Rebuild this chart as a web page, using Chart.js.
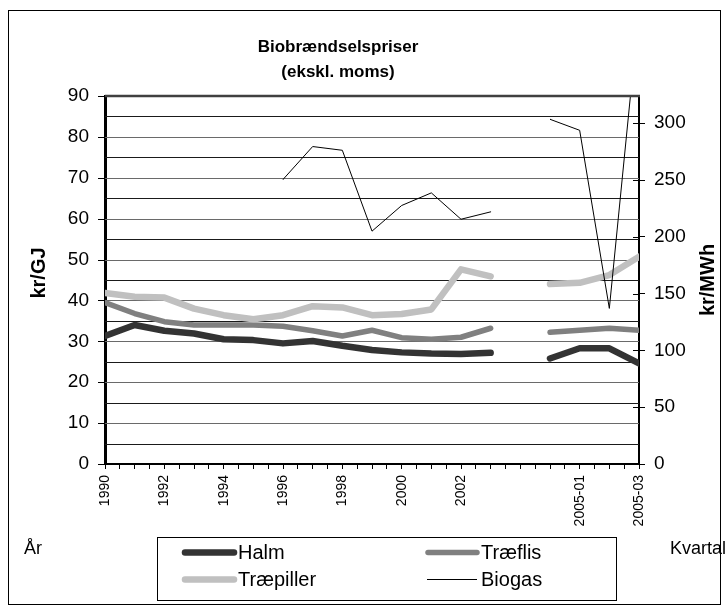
<!DOCTYPE html>
<html>
<head>
<meta charset="utf-8">
<script src="https://cdn.jsdelivr.net/npm/chart.js@4.4.1/dist/chart.umd.min.js"></script>
<style>
  body { margin: 0; background: #fff; }
  #chart { display: block; }
</style>
</head>
<body>
<canvas id="chart" width="728" height="610"></canvas>
<script>
// categories: years, an empty gap slot, then quarters
const categories = ['1990','1991','1992','1993','1994','1995','1996','1997','1998','1999',
                    '2000','2001','2002','2003','','2004-04','2005-01','2005-02','2005-03'];

// kr/GJ
const halm       = [31.3, 34.0, 32.6, 31.9, 30.5, 30.3, 29.5, 30.1, 28.9, 27.9, 27.3, 27.0, 26.9, 27.2, null, 25.8, 28.3, 28.3, 24.6];
const traeflis   = [39.5, 36.8, 34.8, 34.0, 34.0, 34.0, 33.7, 32.6, 31.3, 32.7, 30.9, 30.5, 31.0, 33.2, null, 32.2, 32.7, 33.2, 32.7];
const traepiller = [41.8, 40.9, 40.7, 38.0, 36.4, 35.4, 36.4, 38.6, 38.3, 36.4, 36.7, 37.8, 47.6, 45.9, null, 44.0, 44.3, 46.2, 50.7];
// kr/MWh (secondary axis)
const biogas     = [null, null, null, null, null, null, 250.5, 279.5, 276.2, 205, 227.6, 238.7, 215.5, 222, null, 303.5, 293.8, 137, 400];

const leftTicksMax = 90;
const leftStep = 5;
const rightTicksMax = 324;   // 90 kr/GJ = 324 kr/MWh
const rightStep = 50;

const FONT = '"Liberation Sans", Arial, sans-serif';
Chart.defaults.font.family = FONT;
Chart.defaults.color = '#000';

function pts(arr) {
  return arr.map((v, i) => ({ x: i, y: v }));
}

const decor = {
  id: 'decor',
  beforeDraw(chart) {
    const ctx = chart.ctx;
    ctx.save();
    ctx.fillStyle = '#fff';
    ctx.fillRect(0, 0, chart.width, chart.height);
    ctx.strokeStyle = '#000';
    ctx.lineWidth = 1;
    ctx.strokeRect(8.5, 10.5, 712, 594);
    ctx.restore();
  },
  beforeDatasetsDraw(chart) {
    // horizontal gridlines every 5 kr/GJ, tick marks every 10
    const ctx = chart.ctx;
    const a = chart.chartArea;
    const y = chart.scales.y;
    ctx.save();
    ctx.lineWidth = 1;
    for (let v = 0; v <= leftTicksMax; v += leftStep) {
      const py = Math.round(y.getPixelForValue(v)) + 0.5;
      if (v > 0 && v < leftTicksMax) {
        ctx.strokeStyle = v % 10 === 0 ? '#6a6a6a' : '#1a1a1a';
        ctx.beginPath();
        ctx.moveTo(a.left, py);
        ctx.lineTo(a.right, py);
        ctx.stroke();
      }
      if (v % 10 === 0) {
        ctx.strokeStyle = '#000';
        ctx.beginPath();
        ctx.moveTo(a.left - 7, py);
        ctx.lineTo(a.left, py);
        ctx.stroke();
      }
    }
    ctx.restore();
  },
  afterDraw(chart) {
    const ctx = chart.ctx;
    const a = chart.chartArea;
    ctx.save();

    // top border of plot
    ctx.strokeStyle = '#404040';
    ctx.lineWidth = 2.5;
    ctx.beginPath();
    ctx.moveTo(a.left, a.top);
    ctx.lineTo(a.right + 1, a.top);
    ctx.stroke();

    // inner half of the secondary axis ticks
    const y1 = chart.scales.y1;
    ctx.strokeStyle = '#000';
    ctx.lineWidth = 1;
    y1.ticks.forEach(t => {
      const py = Math.round(y1.getPixelForValue(t.value)) + 0.5;
      ctx.beginPath();
      ctx.moveTo(a.right - 6, py);
      ctx.lineTo(a.right, py);
      ctx.stroke();
    });

    // title
    ctx.fillStyle = '#000';
    ctx.textAlign = 'center';
    ctx.textBaseline = 'middle';
    ctx.font = 'bold 17px ' + FONT;
    ctx.fillText('Biobrændselspriser', 338, 47);
    ctx.fillText('(ekskl. moms)', 338, 72);

    // axis titles
    ctx.font = 'bold 20px ' + FONT;
    ctx.save();
    ctx.translate(39, 273);
    ctx.rotate(-Math.PI / 2);
    ctx.fillText('kr/GJ', 0, 0);
    ctx.restore();
    ctx.save();
    ctx.translate(708, 280);
    ctx.rotate(-Math.PI / 2);
    ctx.fillText('kr/MWh', 0, 0);
    ctx.restore();

    ctx.font = '18px ' + FONT;
    ctx.textAlign = 'left';
    ctx.fillText('År', 24, 549);
    ctx.fillText('Kvartal', 670, 549);

    // legend
    ctx.strokeStyle = '#000';
    ctx.lineWidth = 1;
    ctx.strokeRect(157.5, 537.5, 459, 63);
    const cols = [182, 425];
    const rows = [552, 579];
    ctx.font = '20px ' + FONT;
    chart.data.datasets.forEach((ds, i) => {
      const x = cols[i % 2];
      const yy = rows[Math.floor(i / 2)];
      const thin = ds.borderWidth < 2;
      ctx.strokeStyle = ds.borderColor;
      ctx.lineWidth = ds.borderWidth;
      ctx.lineCap = thin ? 'butt' : 'round';
      ctx.beginPath();
      ctx.moveTo(thin ? x + 2 : x + 3, yy + 0.5);
      ctx.lineTo(x + 52, yy + 0.5);
      ctx.stroke();
      ctx.fillStyle = '#000';
      ctx.fillText(ds.label, x + 56, yy + 1);
    });
    ctx.restore();
  }
};

const lineStyle = { pointRadius: 0, tension: 0, borderCapStyle: 'round', borderJoinStyle: 'round', spanGaps: false, fill: false };

new Chart(document.getElementById('chart'), {
  type: 'line',
  data: {
    datasets: [
      Object.assign({ label: 'Halm', data: pts(halm), borderColor: '#333333', borderWidth: 6.5, yAxisID: 'y', order: 3 }, lineStyle),
      Object.assign({ label: 'Træflis', data: pts(traeflis), borderColor: '#808080', borderWidth: 5.5, yAxisID: 'y', order: 2 }, lineStyle),
      Object.assign({ label: 'Træpiller', data: pts(traepiller), borderColor: '#c0c0c0', borderWidth: 6.5, yAxisID: 'y', order: 1 }, lineStyle),
      Object.assign({ label: 'Biogas', data: pts(biogas), borderColor: '#000000', borderWidth: 1, yAxisID: 'y1', order: 0 }, lineStyle)
    ]
  },
  options: {
    responsive: false,
    animation: false,
    devicePixelRatio: 1,
    layout: { padding: { top: 96, left: 0, right: 0, bottom: 0 } },
    plugins: {
      legend: { display: false },
      title: { display: false },
      tooltip: { enabled: false }
    },
    scales: {
      x: {
        type: 'linear',
        min: 0,
        max: categories.length - 1,
        afterFit(scale) { scale.height = 146; },
        ticks: {
          stepSize: 0.5,
          autoSkip: false,
          minRotation: 90,
          maxRotation: 90,
          padding: 6,
          font: { size: 14 },
          callback(value) {
            return (Number.isInteger(value) && value % 2 === 0) ? categories[value] : '';
          }
        },
        grid: { drawOnChartArea: false, tickLength: 5, color: '#000' },
        border: { display: true, color: '#000', width: 2 }
      },
      y: {
        position: 'left',
        min: 0,
        max: leftTicksMax,
        afterFit(scale) { scale.width = 105; },
        ticks: {
          stepSize: leftStep,
          padding: 10,
          font: { size: 19 },
          callback(value) { return value % 10 === 0 ? value : ''; }
        },
        grid: { drawOnChartArea: false, tickColor: 'rgba(0,0,0,0)', color: 'rgba(0,0,0,0)', tickLength: 6 },
        border: { display: true, color: '#000', width: 3 }
      },
      y1: {
        position: 'right',
        min: 0,
        max: rightTicksMax,
        afterFit(scale) { scale.width = 89; },
        ticks: {
          stepSize: rightStep,
          includeBounds: false,
          padding: 9,
          font: { size: 19 }
        },
        grid: { drawOnChartArea: false, tickLength: 6, color: '#000' },
        border: { display: true, color: '#000', width: 2 }
      }
    }
  },
  plugins: [decor]
});
</script>
</body>
</html>
